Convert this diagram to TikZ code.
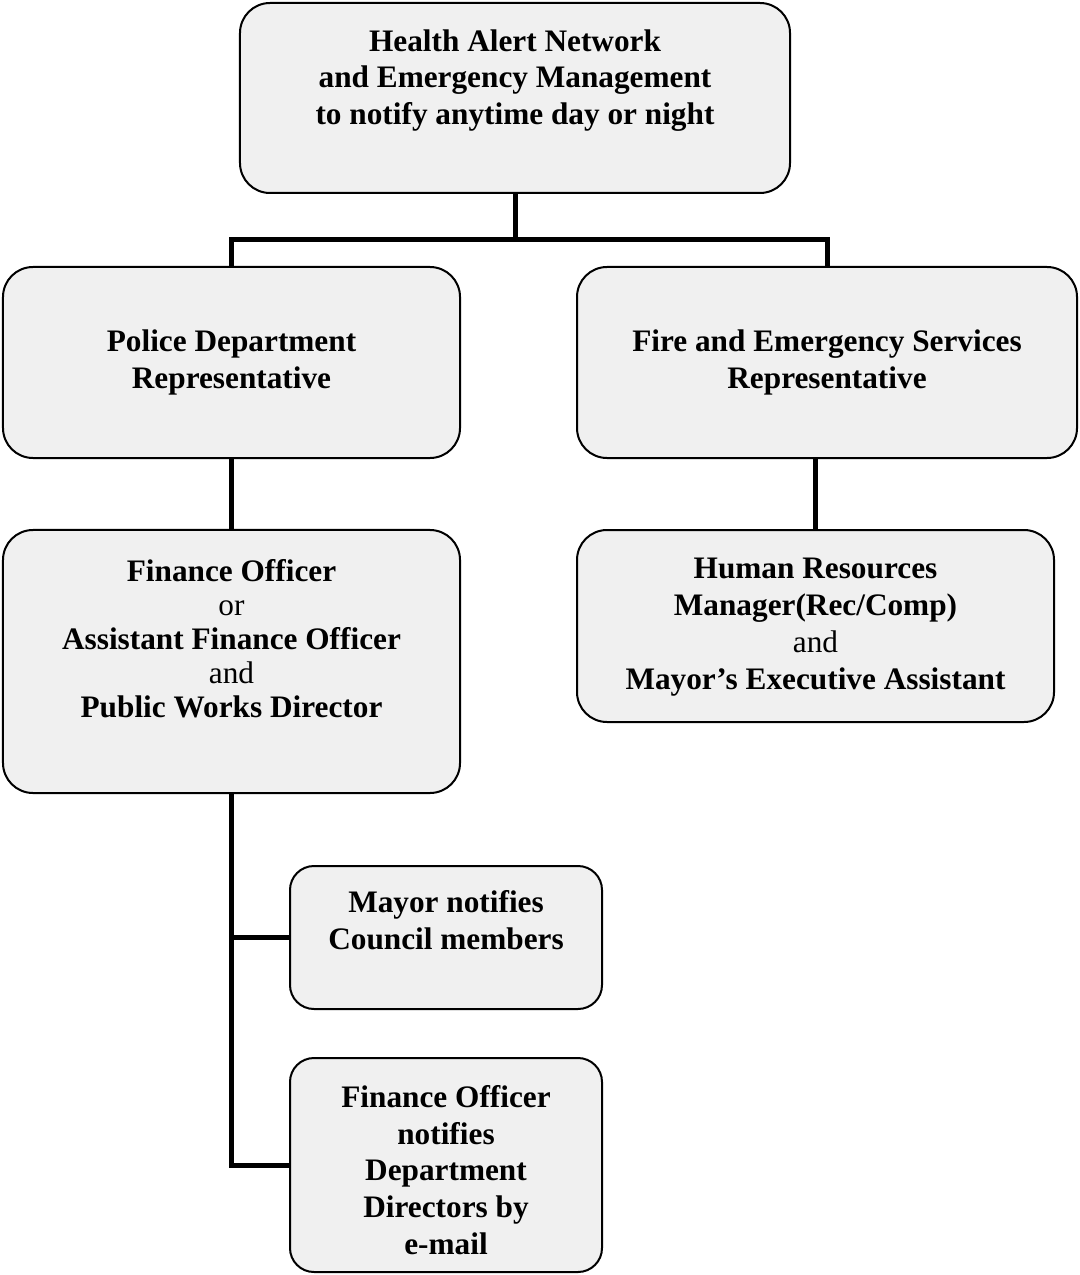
\documentclass[tikz,border=0pt]{standalone}
\usepackage{fontspec}
\setmainfont{Liberation Serif}
\usetikzlibrary{positioning}

\tikzset{
  box/.style={draw, line width=1bp, fill=black!6, rounded corners=15bp},
  txt/.style={align=center, font=\fontsize{15.7}{18.5}\selectfont\bfseries, inner sep=0pt},
  conn/.style={line width=2.5bp}
}
\newcommand{\nb}[1]{{\mdseries #1}}

\begin{document}
\begin{tikzpicture}[x=0.5bp,y=-0.5bp]
\useasboundingbox (0,0) rectangle (1079,1275);

\begin{scope}
\node[box, minimum width=275bp, minimum height=95bp] (top) at (515,98) {};
\node[box, minimum width=228.5bp, minimum height=95.5bp] (police) at (231.5,362.5) {};
\node[box, minimum width=250bp, minimum height=95.5bp] (fire) at (827,362.5) {};
\node[box, minimum width=228.5bp, minimum height=131.5bp] (finance) at (231.5,661.5) {};
\node[box, minimum width=238.5bp, minimum height=96bp] (hr) at (815.5,626) {};
\node[box, minimum width=156bp, minimum height=71.5bp, rounded corners=12bp] (mayor) at (446,937.5) {};
\node[box, minimum width=156bp, minimum height=107bp, rounded corners=12bp] (notify) at (446,1165) {};

\node[txt] (topT) at ([yshift=8.75bp]top.center)
  {Health Alert Network\\and Emergency Management\\to notify anytime day or night};
\node[txt] (policeT) at ([yshift=0bp]police.center) {Police Department\\Representative};
\node[txt] (fireT) at ([yshift=0bp]fire.center) {Fire and Emergency Services\\Representative};
\node[txt, font=\fontsize{15.7}{17}\selectfont\bfseries] (financeT) at ([yshift=11.5bp]finance.center)
  {Finance Officer\\\nb{or}\\Assistant Finance Officer\\\nb{and}\\Public Works Director};
\node[txt] (hrT) at ([yshift=-0.5bp]hr.center)
  {Human Resources\\Manager(Rec/Comp)\\\nb{and}\\Mayor's Executive Assistant};
\node[txt] (mayorT) at ([yshift=8.5bp]mayor.center) {Mayor notifies\\Council members};
\node[txt] (notifyT) at ([yshift=-2.5bp]notify.center)
  {Finance Officer\\notifies\\Department\\Directors by\\e-mail};
\end{scope}

\coordinate (split) at (515,240);
\draw[conn] (top.south) -- (split);
\draw[conn] (police.north) |- (split) -| (fire.north);
\draw[conn] (police.south) -- (finance.north);
\draw[conn] (fire.south -| hr.north) -- (hr.north);
\draw[conn] (finance.south) |- (notify.west);
\draw[conn] (finance.south |- mayor.west) -- (mayor.west);

\end{tikzpicture}
\end{document}
